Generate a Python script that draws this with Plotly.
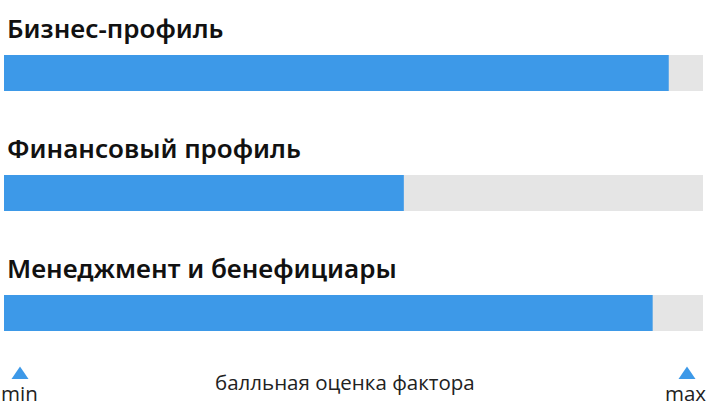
import plotly.graph_objects as go

categories = ["Бизнес-профиль", "Финансовый профиль", "Менеджмент и бенефициары"]
scores = [95.1, 57.2, 92.8]
max_scores = [100, 100, 100]
scale_labels = ["min", "балльная оценка фактора", "max"]

BLUE = "#3d99e8"
TRACK = "#e5e5e5"

ypos = list(range(len(categories)))

fig = go.Figure()
fig.add_trace(go.Bar(
    x=max_scores, y=ypos, orientation="h", width=0.3,
    marker=dict(color=TRACK, line=dict(width=0)), hoverinfo="skip", showlegend=False,
))
fig.add_trace(go.Bar(
    x=scores, y=ypos, orientation="h", width=0.3,
    marker=dict(color=BLUE, line=dict(width=0)), showlegend=False,
    hovertemplate="%{x}<extra></extra>",
))

annotations = []
for i, name in enumerate(categories):
    annotations.append(dict(
        x=0, y=i, xref="x", yref="y", text=name, showarrow=False,
        xanchor="left", yanchor="middle", xshift=1, yshift=45,
        font=dict(family="Noto Sans", size=26, color="#111111", weight=600),
    ))

lab_font = dict(family="Open Sans", size=20.5, color="#222222")
annotations.append(dict(x=0.0, y=0.0, xref="paper", yref="paper", text=scale_labels[0],
                        showarrow=False, xanchor="center", yanchor="middle", xshift=15,
                        yshift=-20, font=lab_font))
annotations.append(dict(x=0.5, y=0.0, xref="paper", yref="paper", text=scale_labels[1],
                        showarrow=False, xanchor="center", yanchor="middle", xshift=-9,
                        yshift=-9, font=lab_font))
annotations.append(dict(x=1.0, y=0.0, xref="paper", yref="paper", text=scale_labels[2],
                        showarrow=False, xanchor="center", yanchor="middle", xshift=-18,
                        yshift=-20, font=lab_font))

shapes = []
for px in (20, 687):
    cx = (px - 4) / 699
    hw = 8.5 / 699
    top = (373 - 366.5) / 360
    bot = (373 - 379) / 360
    shapes.append(dict(
        type="path", xref="paper", yref="paper",
        path=f"M {cx-hw},{bot} L {cx+hw},{bot} L {cx},{top} Z",
        fillcolor=BLUE, line=dict(width=0),
    ))

fig.update_layout(
    width=706, height=412,
    margin=dict(l=4, r=3, t=13, b=39),
    paper_bgcolor="white", plot_bgcolor="white",
    barmode="overlay",
    xaxis=dict(range=[0, 100], visible=False, fixedrange=True),
    yaxis=dict(range=[2.5, -0.5], visible=False, fixedrange=True),
    annotations=annotations,
    shapes=shapes,
)

fig.write_html("out.html", config={"displayModeBar": False},
               post_script="document.body.style.margin='0';document.body.style.overflow='hidden';")
